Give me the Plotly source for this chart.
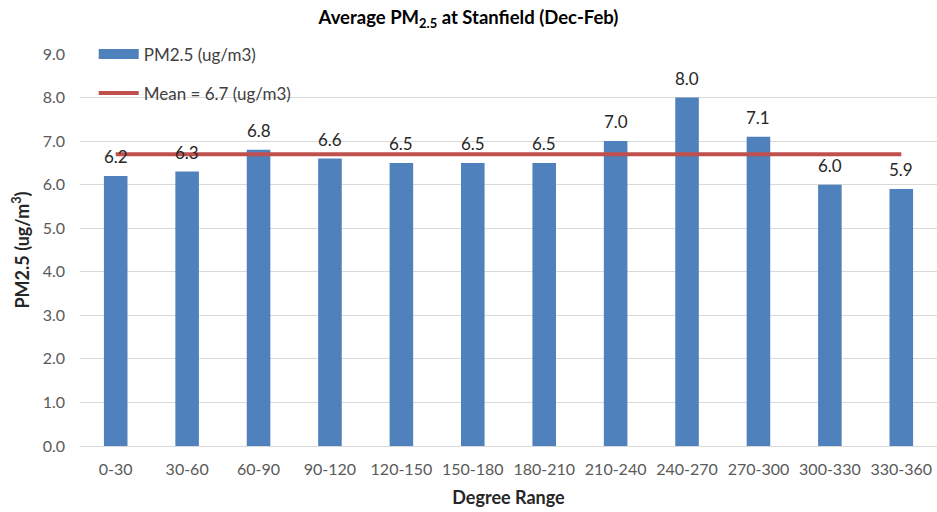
import plotly.graph_objects as go

# Wind-direction sectors and mean PM2.5 per sector (Dec-Feb)
degree_ranges = ["0-30", "30-60", "60-90", "90-120", "120-150", "150-180",
                 "180-210", "210-240", "240-270", "270-300", "300-330", "330-360"]
pm25 = [6.2, 6.3, 6.8, 6.6, 6.5, 6.5, 6.5, 7.0, 8.0, 7.1, 6.0, 5.9]
mean_value = 6.7
y_ticks = [0, 1, 2, 3, 4, 5, 6, 7, 8, 9]

FONT = "Lato, 'Open Sans', sans-serif"
BAR_COLOR = "#4F81BD"
LINE_COLOR = "#C0504D"
GRID = "#D9D9D9"

fig = go.Figure()

fig.add_trace(go.Bar(
    x=degree_ranges, y=pm25, name="PM2.5 (ug/m3)",
    marker=dict(color=BAR_COLOR, line=dict(width=0)),
    width=0.33, showlegend=False,
))

# legend entry for the bars, shown as a wide swatch
fig.add_trace(go.Scatter(
    x=[None], y=[None], mode="lines", name="PM2.5 (ug/m3)",
    line=dict(color=BAR_COLOR, width=11), legendgroup="bars",
    hoverinfo="skip",
))

fig.add_trace(go.Scatter(
    x=degree_ranges, y=[mean_value] * len(degree_ranges),
    mode="lines", name=f"Mean = {mean_value} (ug/m3)",
    line=dict(color=LINE_COLOR, width=4), legendgroup="mean",
))

# value labels above each bar, drawn on top of the mean line
for cat, v in zip(degree_ranges, pm25):
    fig.add_annotation(
        x=cat, y=v, text=f"{v:.1f}", showarrow=False,
        yanchor="bottom", yshift=7,
        font=dict(family=FONT, size=17, color="#262626"),
    )

fig.update_layout(
    width=937, height=512,
    margin=dict(l=80, r=0, t=54, b=66),
    paper_bgcolor="white", plot_bgcolor="white",
    font=dict(family=FONT, color="#595959", size=16),
    title=dict(
        text="<b>Average PM<sub>2.5</sub> at Stanfield (Dec-Feb)</b>",
        x=0.5, xanchor="center", y=0.965, yanchor="middle",
        font=dict(family=FONT, size=18.5, color="#000000"),
    ),
    legend=dict(
        x=0.016, y=1.045, xanchor="left", yanchor="top",
        bgcolor="rgba(0,0,0,0)", font=dict(family=FONT, size=17, color="#404040"),
        tracegroupgap=14, itemwidth=40,
    ),
    showlegend=True,
    bargap=0.67,
)

fig.update_xaxes(
    type="category", showgrid=False,
    showline=True, linecolor=GRID, linewidth=1,
    ticks="", tickfont=dict(size=16, color="#595959"), ticklabelstandoff=9,
    title=dict(text="<b>Degree Range</b>", font=dict(size=18, color="#262626"), standoff=14),
)

fig.update_yaxes(
    range=[0, 9], tickvals=y_ticks, ticktext=[f"{v:.1f}" for v in y_ticks],
    showgrid=True, gridcolor=GRID, gridwidth=1, zeroline=False,
    tickfont=dict(size=16, color="#595959"), ticklabelstandoff=14,
    title=dict(text="<b>PM2.5 (ug/m<sup>3</sup>)</b>", font=dict(size=18, color="#262626"), standoff=8),
)

fig.write_html("out.html")
